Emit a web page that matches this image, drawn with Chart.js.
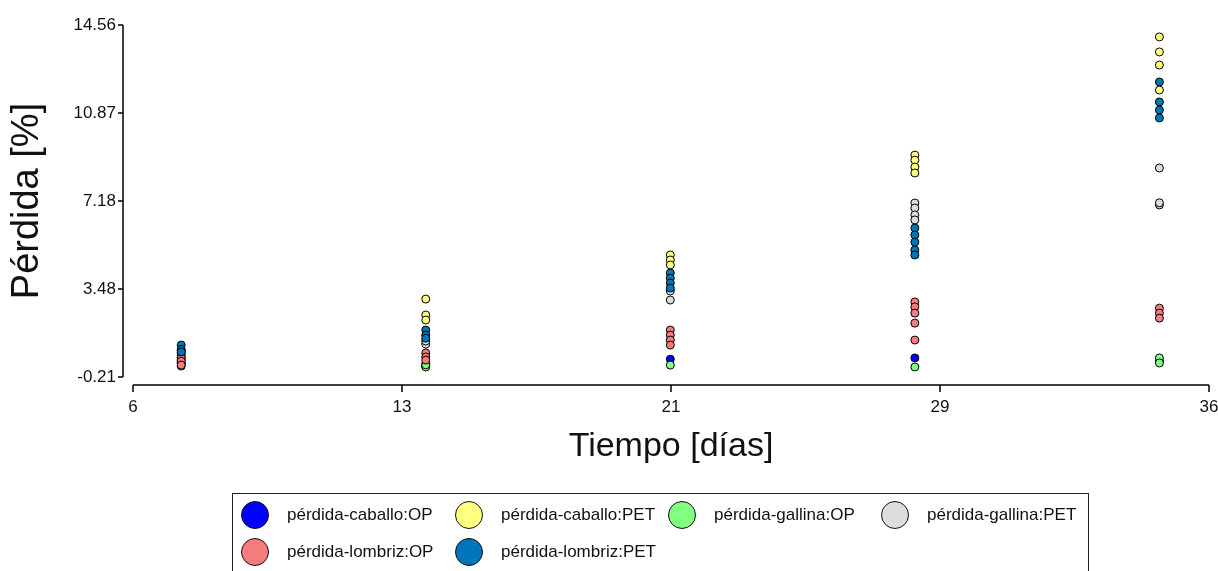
<!DOCTYPE html>
<html>
<head>
<meta charset="utf-8">
<script src="https://cdn.jsdelivr.net/npm/chart.js@4"></script>
<style>
html, body { margin: 0; padding: 0; background: #fff; overflow: hidden; }
#wrap { position: relative; width: 1218px; height: 571px; }
#legend { position: absolute; left: 232px; top: 493px; width: 855px; height: 95px; border: 1.5px solid #222;
  font-family: "Liberation Sans", Arial, sans-serif; font-size: 17px; color: #111; }
.item { position: absolute; height: 28px; white-space: nowrap; }
.dot { position: absolute; left: 0; top: 0; width: 26px; height: 26px; border-radius: 50%; border: 1px solid #111; }
.txt { position: absolute; left: 46px; top: 4px; }
</style>
</head>
<body>
<div id="wrap">
<canvas id="myChart" width="1218" height="571"></canvas>
<div id="legend"></div>
</div>
<script>
// days of sampling
const days = [7, 14, 21, 28, 35];

const seriesLabels = ['pérdida-caballo:OP', 'pérdida-caballo:PET', 'pérdida-gallina:OP',
  'pérdida-gallina:PET', 'pérdida-lombriz:OP', 'pérdida-lombriz:PET'];
const seriesColors = ['#0000FF', '#FFFF80', '#80FF80', '#DDDDDD', '#F47C7C', '#0076BA'];

// values per day (one list of replicates for each day)
const caballoOP = [[0.35, 0.5], [0.25, 0.35], [0.54], [0.59], [0.45]];
const caballoPET = [[0.7, 0.9], [3.06, 2.39, 2.18], [4.91, 4.70, 4.49], [9.10, 8.89, 8.60, 8.35], [14.06, 13.43, 12.88, 11.83]];
const gallinaOP = [[0.25, 0.4], [0.21, 0.3], [0.29], [0.21], [0.59, 0.38]];
const gallinaPET = [[0.6, 0.8], [1.17, 1.3], [3.02, 3.4], [7.09, 6.88, 6.59, 6.38], [8.56, 7.01, 7.1]];
const lombrizOP = [[0.59, 0.45, 0.29], [0.80, 0.63, 0.50], [1.76, 1.55, 1.34, 1.13], [2.94, 2.73, 2.47, 2.05, 1.34], [2.68, 2.47, 2.26]];
const lombrizPET = [[1.13, 0.95, 0.84], [1.76, 1.55, 1.42], [4.15, 3.94, 3.73, 3.52], [6.04, 5.75, 5.45, 5.12, 4.91], [12.17, 11.33, 10.99, 10.66]];

// axis ticks
const xTicks = [5.62, 13.32, 21.02, 28.72, 36.42];
const xTickLabels = ['6', '13', '21', '29', '36'];
const yTicks = [-0.21, 3.4825, 7.175, 10.8675, 14.56];
const yTickLabels = ['-0.21', '3.48', '7.18', '10.87', '14.56'];

const seriesValues = [caballoOP, caballoPET, gallinaOP, gallinaPET, lombrizOP, lombrizPET];
const fam = '"Liberation Sans", Arial, sans-serif';

// detached axes like the R plot
const axisLines = {
  id: 'axisLines',
  afterDraw(chart) {
    const ctx = chart.ctx, area = chart.chartArea;
    const x = chart.scales.x, y = chart.scales.y;
    ctx.save();
    ctx.strokeStyle = '#000';
    ctx.lineWidth = 1.5;
    ctx.beginPath();
    const ax = area.left - 10;
    ctx.moveTo(ax, y.getPixelForValue(yTicks[0]));
    ctx.lineTo(ax, y.getPixelForValue(yTicks[yTicks.length - 1]));
    yTicks.forEach(v => {
      const p = y.getPixelForValue(v);
      ctx.moveTo(ax, p);
      ctx.lineTo(ax - 5, p);
    });
    const ay = area.bottom + 8;
    ctx.moveTo(x.getPixelForValue(xTicks[0]), ay);
    ctx.lineTo(x.getPixelForValue(xTicks[xTicks.length - 1]), ay);
    xTicks.forEach(v => {
      const p = x.getPixelForValue(v);
      ctx.moveTo(p, ay);
      ctx.lineTo(p, ay + 7);
    });
    ctx.stroke();
    ctx.restore();
  }
};

const ctx = document.getElementById('myChart');
const myChart = new Chart(ctx, {
  type: 'scatter',
  data: {
    datasets: seriesValues.map((vals, i) => ({
      label: seriesLabels[i],
      data: vals.flatMap((list, d) => list.map(v => ({x: days[d], y: v}))),
      backgroundColor: seriesColors[i],
      borderColor: '#000',
      borderWidth: 1,
      pointRadius: 4,
      order: seriesValues.length - i
    }))
  },
  options: {
    responsive: false,
    animation: false,
    layout: {padding: {left: 0, top: 25, right: 9, bottom: 84}},
    plugins: {legend: {display: false}, tooltip: {enabled: false}},
    scales: {
      x: {
        type: 'linear',
        min: xTicks[0],
        max: xTicks[xTicks.length - 1],
        afterBuildTicks: s => { s.ticks = xTicks.map(v => ({value: v})); },
        afterFit: s => { s.height = 110; s.paddingLeft = 0; s.paddingRight = 0; },
        grid: {display: false, drawTicks: false},
        border: {display: false},
        ticks: {
          autoSkip: false, maxRotation: 0, padding: 20, color: '#111',
          font: {family: fam, size: 17},
          callback: (v, i) => xTickLabels[i]
        },
        title: {display: true, text: 'Tiempo [días]', color: '#111',
          font: {family: fam, size: 34}, padding: {top: 0, bottom: 20}}
      },
      y: {
        min: yTicks[0],
        max: yTicks[yTicks.length - 1],
        afterBuildTicks: s => { s.ticks = yTicks.map(v => ({value: v})); },
        afterFit: s => { s.width = 133; s.paddingTop = 0; s.paddingBottom = 0; },
        grid: {display: false, drawTicks: false},
        border: {display: false},
        ticks: {
          autoSkip: false, padding: 17, color: '#111',
          font: {family: fam, size: 17},
          callback: (v, i) => yTickLabels[i]
        },
        title: {display: true, text: 'Pérdida [%]', color: '#111',
          font: {family: fam, size: 38}, padding: {top: 5, bottom: 0}}
      }
    }
  },
  plugins: [axisLines]
});

// legend box, 4 columns
const legend = document.getElementById('legend');
const colX = [8, 222, 435, 648];
const rowY = [7, 44];
seriesLabels.forEach((lab, i) => {
  const item = document.createElement('div');
  item.className = 'item';
  item.style.left = colX[i % 4] + 'px';
  item.style.top = rowY[Math.floor(i / 4)] + 'px';
  const dot = document.createElement('span');
  dot.className = 'dot';
  dot.style.background = seriesColors[i];
  const txt = document.createElement('span');
  txt.className = 'txt';
  txt.textContent = lab;
  item.appendChild(dot);
  item.appendChild(txt);
  legend.appendChild(item);
});
</script>
</body>
</html>
